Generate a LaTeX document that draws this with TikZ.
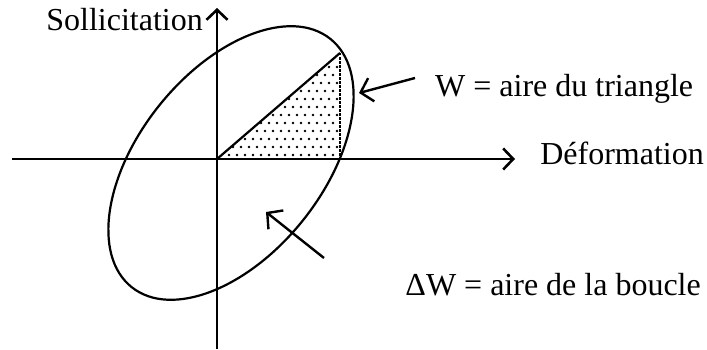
\documentclass[tikz,border=0pt]{standalone}
\usepackage{fontspec}
\setmainfont{Liberation Serif}
\usetikzlibrary{arrows.meta}
\begin{document}
\begin{tikzpicture}[x=1pt,y=1pt,
  axis/.style={line width=2.6pt,-{Straight Barb[length=10pt,width=21pt,line width=2.6pt]}},
  pointer/.style={line width=2.4pt,-{Straight Barb[length=11pt,width=24pt,line width=2.4pt]}},
  lbl/.style={inner sep=0pt,font=\fontsize{32}{38}\selectfont},
  curve/.style={line width=2.2pt}]
\useasboundingbox (0,0) rectangle (707,349);
% coordinates
\coordinate (O) at (217,190);
\coordinate (ybot) at (217,0);
\coordinate (ytop) at (217,341);
\coordinate (xleft) at (12,190);
\coordinate (xright) at (515,190);
\coordinate (A) at (340,296);
\coordinate (B) at (340,190);
% dotted fill
\begin{scope}
  \clip (O) -- (A) -- (B) -- cycle;
  \foreach \j in {0,...,14}{
    \foreach \i in {0,...,17}{
      \pgfmathsetmacro{\xx}{217+4+8*\i+4*mod(\j,2)}
      \pgfmathsetmacro{\yy}{190+4+8*\j}
      \fill (\xx,\yy) circle (1.3pt);
    }
  }
\end{scope}
% triangle
\draw[curve] (O) -- (A);
\draw[line width=2.2pt,dash pattern=on 2.5pt off 1.5pt] (A) -- (B);
% ellipse
\draw[curve,rotate around={51.3:(231,186)}] (231,186) ellipse [x radius=159pt,y radius=92pt];
% axes
\draw[axis] (ybot) -- (ytop);
\draw[axis] (xleft) -- (xright);
% labels
\node[lbl,anchor=base east] (sol) at (203,318) {Sollicitation};
\node[lbl,anchor=base west] (wt) at (435,253) {W = aire du triangle};
\node[lbl,anchor=base east] (def) at (704,185) {Déformation};
\node[lbl,anchor=base east] (dw) at (701,54) {ΔW = aire de la boucle};
% pointers
\coordinate (p1t) at (415,271);
\coordinate (p1h) at (359,256);
\coordinate (p2t) at (324,91);
\coordinate (p2h) at (266,137);
\draw[pointer] (p1t) -- (p1h);
\draw[pointer] (p2t) -- (p2h);
\end{tikzpicture}
\end{document}
